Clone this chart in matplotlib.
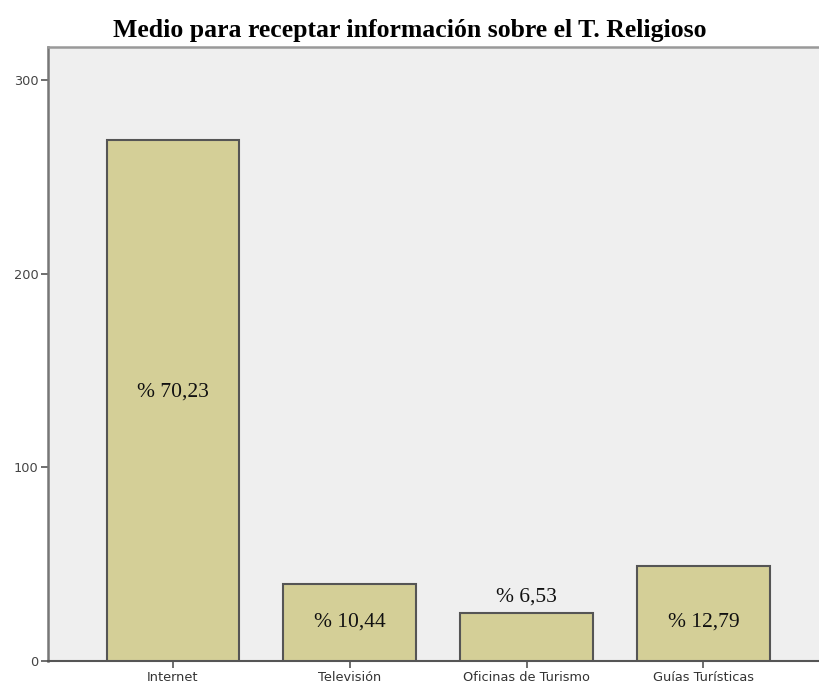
import matplotlib
matplotlib.use("Agg")
import matplotlib.pyplot as plt

categories = ["Internet", "Televisión", "Oficinas de Turismo", "Guías Turísticas"]
counts = [269, 40, 25, 49]
pct_labels = ["% 70,23", "% 10,44", "% 6,53", "% 12,79"]
label_y = [139, 20, 33, 20]
yticks = [0, 100, 200, 300]

fig = plt.figure(figsize=(8.2, 6.89), dpi=100)
ax = fig.add_axes([48/820, 28/689, 1 - 48/820, (661-47)/689])
ax.set_facecolor("#efefef")

x = list(range(len(categories)))
ax.bar(x, counts, width=0.75, color="#d4cf97", edgecolor="#555555", linewidth=1.5, zorder=3)
for xi, t, yy in zip(x, pct_labels, label_y):
    ax.text(xi, yy, t, ha="center", va="center", fontsize=15.5,
            family="Liberation Serif", color="#111111", zorder=4)

ax.set_xlim(-0.707, 3.66)
ax.set_ylim(0, 317)
ax.set_xticks(x)
ax.set_xticklabels(categories, fontsize=9.3, color="#333333")
ax.set_yticks(yticks)
ax.set_yticklabels([str(v) for v in yticks], fontsize=9.3, color="#444444")
ax.tick_params(axis="both", length=5, width=1.2, color="#555555", pad=2)

ax.spines["right"].set_visible(False)
ax.spines["left"].set_color("#777777")
ax.spines["left"].set_linewidth(1.8)
ax.spines["bottom"].set_color("#555555")
ax.spines["bottom"].set_linewidth(1.5)
ax.spines["top"].set_color("#999999")
ax.spines["top"].set_linewidth(1.8)

fig.text(0.5, 1 - 30/689, "Medio para receptar información sobre el T. Religioso",
         ha="center", va="center", fontsize=18.5, fontweight="bold",
         family="Liberation Serif", color="black")

fig.savefig("out.png", dpi=100, facecolor="white")
